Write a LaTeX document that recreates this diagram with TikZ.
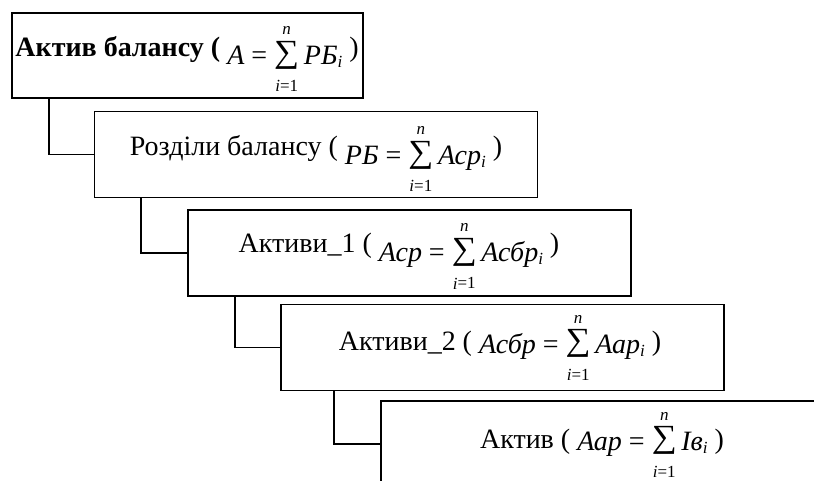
\documentclass[tikz,border=0pt]{standalone}
\usepackage{fontspec}
\usepackage{graphicx}
\setmainfont{Liberation Serif}
\newlength{\fdd}
\newcommand{\limf}{\fontsize{17}{17}\selectfont}
\newcommand{\fl}[1]{\raisebox{-\fdd}{#1}}
\newcommand{\sumx}{\makebox[25pt][l]{%
  \rlap{\raisebox{\dimexpr-\fdd-4pt\relax}{\resizebox{25pt}{28pt}{\raisebox{\depth}{∑}}}}%
  \rlap{\makebox[25pt][c]{\raisebox{\dimexpr30pt-\fdd\relax}{\limf\textit{n}}}}%
  \rlap{\makebox[25pt][c]{\raisebox{\dimexpr-27pt-\fdd\relax}{\limf\textit{i}=1}}}}}
\newcommand{\sub}{\raisebox{\dimexpr-3pt-\fdd\relax}{\limf\textit{i}}}
\newcommand{\fml}[3]{\setlength{\fdd}{#1pt}\fl{\textit{#2}} \fl{=} \sumx\,\fl{\textit{#3}}\sub}
\begin{document}
\begin{tikzpicture}[x=1pt,y=-1pt,
  box/.style={draw,line width=1.8pt,rectangle,minimum width=443pt,minimum height=86pt,inner sep=0pt},
  lbl/.style={anchor=base,inner sep=0pt,font=\fontsize{28}{32}\selectfont},
  conn/.style={draw,line width=1.8pt}]
\useasboundingbox (0,0) rectangle (814,481);
\clip (0,0) rectangle (814,481);
\node[box,minimum width=351pt,minimum height=85pt] (b1) at (187.5,55.5) {};
\node[box] (b2) at (316,154.5) {};
\node[box] (b3) at (409.5,253) {};
\node[box] (b4) at (502.5,347.5) {};
\node[box] (b5) at (602.5,444) {};
\node[lbl] (t1) at (187,57) {\textbf{Актив балансу (} \fml{8}{A}{РБ} )};
\node[lbl] (t2) at (316,156) {Розділи балансу ( \fml{9}{РБ}{Аср} )};
\node[lbl] (t3) at (399,253) {Активи\_1 ( \fml{9}{Аср}{Асбр} )};
\node[lbl] (t4) at (500,350) {Активи\_2 ( \fml{3}{Асбр}{Аар} )};
\node[lbl] (t5) at (602,448) {Актив ( \fml{2}{Аар}{Ів} )};
\draw[conn] ([xshift=38pt]b1.south west) |- (b2.west);
\draw[conn] ([xshift=47pt]b2.south west) |- (b3.west);
\draw[conn] ([xshift=48pt]b3.south west) |- (b4.west);
\draw[conn] ([xshift=54pt]b4.south west) |- (b5.west);
\end{tikzpicture}
\end{document}
